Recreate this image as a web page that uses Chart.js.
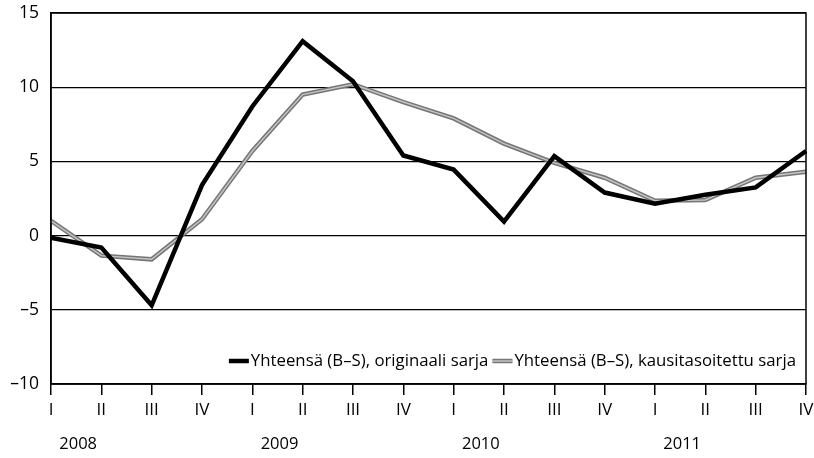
<!DOCTYPE html>
<html>
<head>
<meta charset="utf-8">
<script src="https://cdn.jsdelivr.net/npm/chart.js@4/dist/chart.umd.min.js"></script>
<style>
html,body{margin:0;padding:0;background:#fff;}
#wrap{width:814px;height:458px;position:relative;}
</style>
</head>
<body>
<div id="wrap"><canvas id="c" width="814" height="458"></canvas></div>
<script>
const quarters = ['I','II','III','IV','I','II','III','IV','I','II','III','IV','I','II','III','IV'];
const years = ['2008','2009','2010','2011'];
const original = [-0.15,-0.8,-4.7,3.4,8.7,13.1,10.4,5.4,4.45,0.95,5.35,2.9,2.15,2.75,3.25,5.7];
const adjusted = [1.0,-1.35,-1.6,1.1,5.7,9.5,10.2,9.0,7.9,6.2,4.9,3.9,2.35,2.4,3.9,4.3];
const seriesLabels = ['Yhteensä (B–S), originaali sarja','Yhteensä (B–S), kausitasoitettu sarja'];
const yTicks = [15,10,5,0,-5,-10];

const FONT = '"Open Sans", "DejaVu Sans", sans-serif';
const GRAY_EDGE = '#767676', GRAY_CORE = '#c4c4c4';

const boxPlugin = {
  id:'box',
  afterDraw(chart){
    const {ctx, chartArea:a} = chart;
    ctx.save();
    ctx.strokeStyle='#000'; ctx.lineWidth=1.5;
    ctx.strokeRect(a.left, a.top, a.right-a.left, a.bottom-a.top);
    ctx.restore();
  }
};
const yearPlugin = {
  id:'years',
  afterDraw(chart){
    const {ctx} = chart; const xs = chart.scales.x;
    ctx.save();
    ctx.fillStyle='#000'; ctx.font='16.5px '+FONT; ctx.textAlign='center'; ctx.textBaseline='middle';
    years.forEach((y,i)=>{
      const x = (xs.getPixelForValue(i*4)+xs.getPixelForValue(i*4+1))/2 + 2;
      ctx.fillText(y, x, 444);
    });
    ctx.restore();
  }
};
const legendPlugin = {
  id:'customLegend',
  afterDraw(chart){
    const {ctx, chartArea:a} = chart;
    ctx.save();
    ctx.font='16.8px '+FONT; ctx.textBaseline='middle'; ctx.textAlign='left';
    const sw=20, g1=2, g2=4;
    const items = [
      {label:seriesLabels[0], strokes:[['#000',4.5]]},
      {label:seriesLabels[1], strokes:[[GRAY_EDGE,4.5],[GRAY_CORE,1.5]]}
    ];
    let widths = items.map(d=>ctx.measureText(d.label).width);
    let total = widths.reduce((s,w)=>s+sw+g1+w,0)+g2;
    let x = a.right-10-total; const y = 361;
    items.forEach((d,i)=>{
      d.strokes.forEach(([c,w])=>{
        ctx.strokeStyle=c; ctx.lineWidth=w;
        ctx.beginPath(); ctx.moveTo(x,y); ctx.lineTo(x+sw,y); ctx.stroke();
      });
      x+=sw+g1;
      ctx.fillStyle='#000'; ctx.fillText(d.label,x,y);
      x+=widths[i]+g2;
    });
    ctx.restore();
  }
};

new Chart(document.getElementById('c'),{
  type:'line',
  data:{
    labels:quarters,
    datasets:[
      {label:seriesLabels[0],data:original,borderColor:'#000',borderWidth:4.5,pointRadius:0,tension:0,borderJoinStyle:'miter'},
      {label:seriesLabels[1]+' (core)',data:adjusted,borderColor:GRAY_CORE,borderWidth:1.5,pointRadius:0,tension:0},
      {label:seriesLabels[1],data:adjusted,borderColor:GRAY_EDGE,borderWidth:4.5,pointRadius:0,tension:0}
    ]
  },
  options:{
    responsive:false,animation:false,
    layout:{padding:{top:13,right:8,left:0,bottom:0}},
    plugins:{legend:{display:false},tooltip:{enabled:false}},
    scales:{
      x:{
        offset:false,
        grid:{drawOnChartArea:false,drawTicks:true,tickLength:11,color:'#000',lineWidth:1.5},
        border:{display:true,color:'#000',width:1.5},
        ticks:{color:'#000',font:{size:17,family:FONT},padding:5,maxRotation:0,autoSkip:false},
        afterFit(s){s.height=74;s.paddingLeft=0;s.paddingRight=0;}
      },
      y:{
        min:-10,max:15,
        afterBuildTicks(s){s.ticks=yTicks.map(v=>({value:v}));},
        grid:{color:'#000',lineWidth:1.2,drawTicks:false},
        border:{display:true,color:'#000',width:1.5},
        ticks:{color:'#000',font:{size:17.5,family:FONT},padding:12,callback:v=>String(v).replace('-','–')},
        afterFit(s){s.width=51;s.paddingTop=0;s.paddingBottom=0;}
      }
    }
  },
  plugins:[boxPlugin,yearPlugin,legendPlugin]
});
</script>
</body>
</html>
